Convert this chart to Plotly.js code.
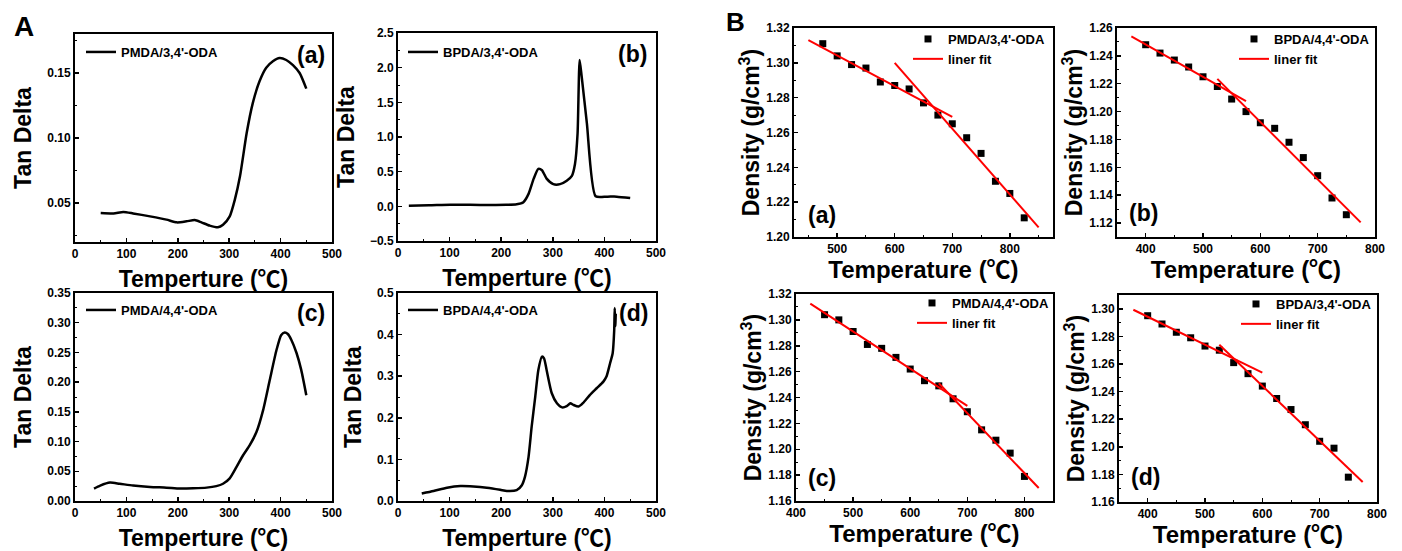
<!DOCTYPE html>
<html><head><meta charset="utf-8">
<script src="https://cdn.plot.ly/plotly-3.0.1.min.js"></script>
<style>html,body{margin:0;padding:0;background:#fff}#chart{width:1402px;height:551px}</style>
</head><body><div id="chart"></div>
<script>
// ---------- Panel A: tan delta curves ----------
const aT = [50,75,94,113,146,178,198,217,233,246,262,278,288,301,311,321,334,346,359,372,385,398,411,424,437,450];
const aV = [0.0423,0.042,0.0431,0.042,0.0397,0.0372,0.0351,0.0359,0.0369,0.0351,0.0326,0.0313,0.0333,0.0397,0.0526,0.0705,0.1038,0.127,0.1436,0.154,0.159,0.1615,0.160,0.156,0.150,0.138];
const bT = [21,60,101,140,179,210,230,243,253,263,272,279,288,301,314,327,337,343,348,352,356,366,383,405,424,450];
const bV = [0.01,0.015,0.024,0.022,0.02,0.022,0.03,0.06,0.18,0.40,0.54,0.52,0.40,0.32,0.32,0.37,0.44,0.61,1.05,2.11,1.87,1.2,0.145,0.14,0.14,0.12];
const cT = [37,49,68,87,113,146,178,204,230,256,275,288,301,314,327,340,353,366,379,392,401,408,414,421,431,440,450];
const cV = [0.021,0.026,0.031,0.029,0.026,0.0236,0.0225,0.021,0.0214,0.0225,0.025,0.029,0.038,0.057,0.077,0.094,0.116,0.153,0.204,0.254,0.279,0.2835,0.281,0.271,0.249,0.221,0.178];
const dT = [46,69,95,121,146,172,198,211,230,240,246,253,259,266,272,279,283,288,298,308,318,327,334,340,350,359,372,385,398,404,411,416,419,420,421,422];
const dV = [0.018,0.024,0.032,0.036,0.035,0.032,0.027,0.024,0.026,0.038,0.058,0.106,0.178,0.251,0.315,0.347,0.343,0.315,0.259,0.235,0.225,0.228,0.235,0.231,0.227,0.236,0.255,0.271,0.287,0.299,0.331,0.355,0.41,0.464,0.42,0.45];
const namesA = ["PMDA/3,4'-ODA","BPDA/3,4'-ODA","PMDA/4,4'-ODA","BPDA/4,4'-ODA"];
const labelsA = ["(a)","(b)","(c)","(d)"];

// ---------- Panel B: density vs temperature ----------
const BaT = [475,500,525,550,575,600,625,650,675,700,725,750,775,800,825];
const BaD = [1.311,1.304,1.299,1.297,1.289,1.287,1.285,1.277,1.270,1.265,1.257,1.248,1.232,1.225,1.211];
const BaFit1T = [450,700], BaFit1D = [1.313,1.269];
const BaFit2T = [600,850], BaFit2D = [1.300,1.2055];
const BbT = [400,425,450,475,500,525,550,575,600,625,650,675,700,725,750];
const BbD = [1.248,1.242,1.237,1.232,1.225,1.218,1.209,1.200,1.192,1.188,1.178,1.167,1.154,1.138,1.126];
const BbFit1T = [375,575], BbFit1D = [1.254,1.2075];
const BbFit2T = [525,775], BbFit2D = [1.2235,1.1205];
const BcT = [450,475,500,525,550,575,600,625,650,675,700,725,750,775,800];
const BcD = [1.304,1.300,1.291,1.281,1.278,1.271,1.262,1.253,1.249,1.239,1.229,1.215,1.207,1.197,1.179];
const BcFit1T = [425,700], BcFit1D = [1.3125,1.2335];
const BcFit2T = [650,825], BcFit2D = [1.251,1.170];
const BdT = [400,425,450,475,500,525,550,575,600,625,650,675,700,725,750];
const BdD = [1.295,1.289,1.283,1.279,1.273,1.270,1.261,1.253,1.244,1.235,1.227,1.216,1.204,1.199,1.178];
const BdFit1T = [375,600], BdFit1D = [1.2993,1.2537];
const BdFit2T = [525,775], BdFit2D = [1.2739,1.1745];
const namesB = ["PMDA/3,4'-ODA","BPDA/4,4'-ODA","PMDA/4,4'-ODA","BPDA/3,4'-ODA"];
const fitName = "liner fit";

const W = 1402, H = 551;
const FONT = "Liberation Sans, Arial, Noto Sans CJK SC, sans-serif";
const fx = p => p / W, fy = p => 1 - p / H;

// subplot boxes in px [left, right, top, bottom]
const boxes = [
  [75,332,34,242],[398,656,33,241],[75,332,293,501],[398,656,293,501],
  [794,1053,28,237],[1117,1375,28,237],[796,1053,294,501],[1119,1377,295,502]
];
const xr = [[0,500],[0,500],[0,500],[0,500],[425,875],[350,800],[400,850],[350,800]];
const yr = [[0.02,0.18],[-0.5,2.5],[0,0.35],[0,0.5],[1.20,1.32],[1.11,1.26],[1.16,1.32],[1.16,1.31]];
const ydt = [0.05,0.5,0.05,0.1,0.02,0.02,0.02,0.02];
const yfmt = ['.2f','.1f','.2f','.1f','.2f','.2f','.2f','.2f'];

const layout = {
  width: W, height: H, margin: {l:0,r:0,t:0,b:0},
  paper_bgcolor: '#fff', plot_bgcolor: '#fff',
  font: {family: FONT, color: '#000'},
  showlegend: true, annotations: []
};

boxes.forEach((b, i) => {
  const n = i + 1, s = n === 1 ? '' : n;
  const isA = i < 4;
  layout['xaxis' + s] = {
    domain: [fx(b[0]), fx(b[1])], anchor: 'y' + s, range: xr[i], dtick: 100,
    tick0: 0, tickformat: 'd',
    showline: true, mirror: true, linecolor: '#000', linewidth: 2,
    ticks: 'inside', ticklen: 4, tickwidth: 1.5, tickcolor: '#000',
    minor: {ticks: 'inside', ticklen: 2, tickwidth: 1, tickcolor: '#000', dtick: 50},
    showgrid: false, zeroline: false,
    tickfont: {family: FONT, size: 12, color: '#000', weight: 'bold'},
    title: {text: isA ? 'Temperture (℃)' : 'Temperature (℃)', standoff: isA ? 10 : 0,
            font: {family: FONT, size: isA ? 23 : 24, color: '#000', weight: 'bold'}}
  };
  layout['yaxis' + s] = {
    domain: [fy(b[3]), fy(b[2])], anchor: 'x' + s, range: yr[i], dtick: ydt[i],
    tick0: 0, tickformat: yfmt[i],
    showline: true, mirror: true, linecolor: '#000', linewidth: 2,
    ticks: 'inside', ticklen: 4, tickwidth: 1.5, tickcolor: '#000',
    minor: {ticks: 'inside', ticklen: 2, tickwidth: 1, tickcolor: '#000', dtick: ydt[i] / 2},
    showgrid: false, zeroline: false,
    tickfont: {family: FONT, size: 12, color: '#000', weight: 'bold'},
    title: {text: isA ? 'Tan Delta' : 'Density (g/cm<sup>3</sup>)', standoff: isA ? 9 : 0,
            font: {family: FONT, size: 23, color: '#000', weight: 'bold'}}
  };
});

const traces = [];
const aData = [[aT,aV],[bT,bV],[cT,cV],[dT,dV]];
aData.forEach((d, i) => {
  const n = i + 1, s = n === 1 ? '' : n;
  traces.push({x: d[0], y: d[1], type: 'scatter', mode: 'lines', name: namesA[i],
    xaxis: 'x' + s, yaxis: 'y' + s, legend: n === 1 ? 'legend' : 'legend' + n,
    line: {color: '#000', width: 2.5, shape: 'spline', smoothing: 0.6}});
});
const bData = [
  [BaT,BaD,BaFit1T,BaFit1D,BaFit2T,BaFit2D],
  [BbT,BbD,BbFit1T,BbFit1D,BbFit2T,BbFit2D],
  [BcT,BcD,BcFit1T,BcFit1D,BcFit2T,BcFit2D],
  [BdT,BdD,BdFit1T,BdFit1D,BdFit2T,BdFit2D]
];
bData.forEach((d, j) => {
  const n = j + 5;
  const ax = {xaxis: 'x' + n, yaxis: 'y' + n, legend: 'legend' + n};
  traces.push(Object.assign({x: d[0], y: d[1], type: 'scatter', mode: 'markers', name: namesB[j],
    marker: {symbol: 'square', size: 7, color: '#000'}}, ax));
  traces.push(Object.assign({x: d[2], y: d[3], type: 'scatter', mode: 'lines', name: fitName,
    legendgroup: 'fit' + n, line: {color: '#ff0000', width: 2}}, ax));
  traces.push(Object.assign({x: d[4], y: d[5], type: 'scatter', mode: 'lines', name: fitName,
    legendgroup: 'fit' + n, showlegend: false, line: {color: '#ff0000', width: 2}}, ax));
});

// legends [left px, top px]
const legPos = [[81,37],[403,37],[81,295],[403,295],[908,24],[1234,24],[912,288],[1236,289]];
legPos.forEach((p, i) => {
  const key = i === 0 ? 'legend' : 'legend' + (i + 1);
  layout[key] = {x: fx(p[0]), y: fy(p[1]), xanchor: 'left', yanchor: 'top',
    bgcolor: 'rgba(0,0,0,0)', borderwidth: 0, tracegroupgap: 0, itemwidth: 30,
    font: {family: FONT, size: 13, color: '#000', weight: 'bold'}};
});

// panel letters and sub labels
const ann = (t, x, y, size, xa) => layout.annotations.push({text: t, x: fx(x), y: fy(y),
  xref: 'paper', yref: 'paper', showarrow: false, xanchor: xa || 'center', yanchor: 'middle',
  font: {family: FONT, size: size, color: '#000', weight: 'bold'}});
ann('A', 24, 26, 28);
ann('B', 735, 22, 26);
const subPos = [[311,55],[632,54],[311,313],[633,313],[822,215],[1143,213],[822,478],[1145,477]];
subPos.forEach((p, i) => ann(labelsA[i % 4], p[0], p[1], 23));

Plotly.newPlot('chart', traces, layout, {staticPlot: true});
</script></body></html>
